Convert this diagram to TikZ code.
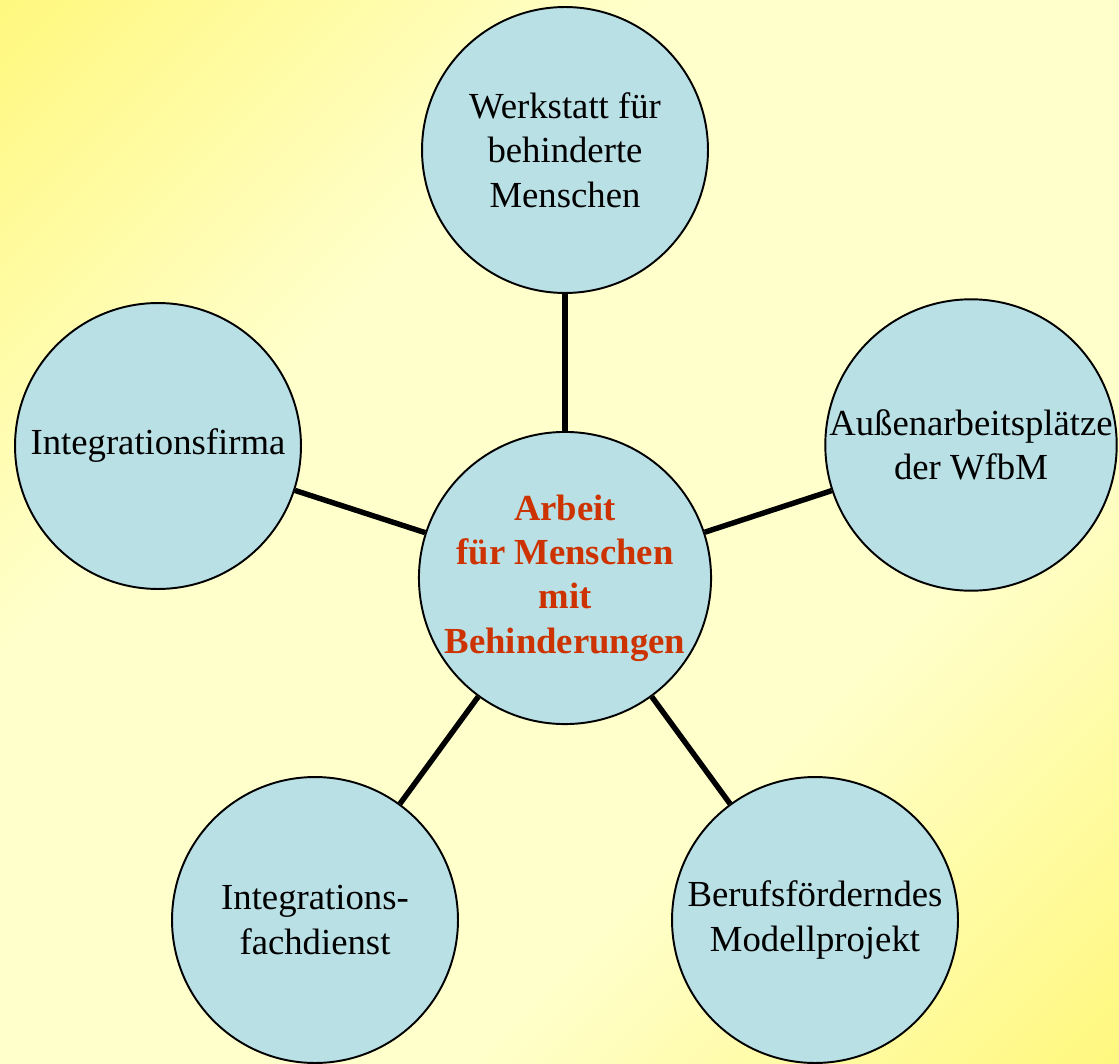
\documentclass[tikz,border=0pt]{standalone}
\usepackage{fontspec}
\setmainfont{Liberation Serif}
\definecolor{bgyellow}{RGB}{255,248,128}
\definecolor{bglight}{RGB}{255,255,204}
\definecolor{bubblefill}{RGB}{185,224,229}
\definecolor{titlered}{RGB}{204,51,0}
\pgfdeclareverticalshading{bgband}{100bp}{color(0bp)=(bgyellow); color(15bp)=(bgyellow); color(36bp)=(bglight); color(64bp)=(bglight); color(85bp)=(bgyellow); color(100bp)=(bgyellow)}
\begin{document}
\begin{tikzpicture}[x=0.02cm,y=-0.02cm,
  bubble/.style={circle,draw,line width=1.1pt,fill=bubblefill,minimum size=5.72cm,inner sep=0pt,align=center,font=\fontsize{20.9}{25.3}\selectfont},
  link/.style={line width=3.1pt}]
\shade[shading=bgband,shading angle=45] (0,0) rectangle (1119,1064);
\useasboundingbox (0,0) rectangle (1119,1064);

\node[bubble] (mitte) at (565,578) {\color{titlered}\bfseries Arbeit\\\color{titlered}\bfseries für Menschen\\\color{titlered}\bfseries mit\\\color{titlered}\bfseries Behinderungen};
\node[bubble] (werkstatt) at (565,150) {Werkstatt für\\behinderte\\Menschen};
\node[bubble] (aussen) at (971,445) {Außenarbeitsplätze\\der WfbM};
\node[bubble] (firma) at (158,446) {Integrationsfirma};
\node[bubble] (fachdienst) at (315,920) {Integrations-\\fachdienst};
\node[bubble] (projekt) at (815,920) {Berufsförderndes\\Modellprojekt};

\draw[link] (mitte) -- (werkstatt);
\draw[link] (mitte) -- (aussen);
\draw[link] (mitte) -- (firma);
\draw[link] (mitte) -- (fachdienst);
\draw[link] (mitte) -- (projekt);
\end{tikzpicture}
\end{document}
